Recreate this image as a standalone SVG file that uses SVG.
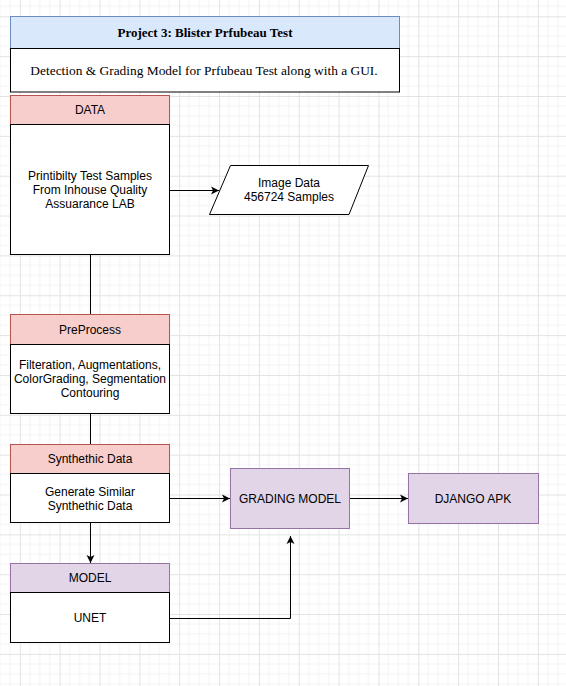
<svg xmlns="http://www.w3.org/2000/svg" width="566" height="686" viewBox="0 0 566 686">
<defs>
<pattern id="grid" patternUnits="userSpaceOnUse" x="19.8" y="16.3" width="39.85" height="39.85">
<path d="M9.96,0V39.85M19.93,0V39.85M29.89,0V39.85M0,9.96H39.85M0,19.93H39.85M0,29.89H39.85" stroke="#f3f3f3" stroke-width="1" fill="none"/>
<path d="M0.5,0V39.85M0,0.5H39.85" stroke="#e3e3e3" stroke-width="1" fill="none"/>
</pattern>
<marker id="arr" viewBox="0 0 10 10" refX="9" refY="5" markerWidth="10" markerHeight="10" markerUnits="userSpaceOnUse" orient="auto">
<path d="M1,1 L9,5 L1,9 L3,5 Z" fill="#000"/>
</marker>
<style>
.t{font-family:"Liberation Sans",Arial,sans-serif;font-size:12px;fill:#000;text-anchor:middle}
.s{font-family:"Liberation Serif","Times New Roman",serif;fill:#000;text-anchor:middle}
.red{fill:#f8cecc;stroke:#b85450;stroke-width:1}
.pur{fill:#e1d5e7;stroke:#9673a6;stroke-width:1}
.blu{fill:#dae8fc;stroke:#6c8ebf;stroke-width:1}
.body{fill:#fff;stroke:#000;stroke-width:1}
.c{fill:none;stroke:#000;stroke-width:1}
</style>
</defs>
<rect width="566" height="686" fill="#fff"/>
<rect width="566" height="686" fill="url(#grid)"/>

<g id="connectors">
<path class="c" d="M90.5,255V314"/>
<path class="c" d="M90.5,414V444"/>
<path class="c" d="M170,190.5H219" marker-end="url(#arr)"/>
<path class="c" d="M170,498.5H230" marker-end="url(#arr)"/>
<path class="c" d="M350,498.5H408" marker-end="url(#arr)"/>
<path class="c" d="M90.5,523V563" marker-end="url(#arr)"/>
<path class="c" d="M170,618.5H290.5V536" marker-end="url(#arr)"/>
</g>

<g id="title">
<rect class="blu" x="10.5" y="16.5" width="389" height="32"/>
<rect class="body" x="10.5" y="48.5" width="389" height="43.5"/>
<text class="s" x="205" y="36.5" font-size="13" font-weight="bold">Project 3: Blister Prfubeau Test</text>
<text class="s" x="204" y="75" font-size="13.4">Detection &amp; Grading Model for Prfubeau Test along with a GUI.</text>
</g>

<g id="data">
<rect class="red" x="10.5" y="95.5" width="159" height="29"/>
<rect class="body" x="10.5" y="124.5" width="159" height="130"/>
<text class="t" x="90" y="114">DATA</text>
<text class="t" x="90" y="180">Printibilty Test Samples</text>
<text class="t" x="90" y="194">From Inhouse Quality</text>
<text class="t" x="90" y="208">Assuarance LAB</text>
</g>

<g id="image-data">
<polygon class="body" points="230.5,165.5 368.5,165.5 349,214.5 209.5,214.5"/>
<text class="t" x="289" y="187">Image Data</text>
<text class="t" x="289" y="201">456724 Samples</text>
</g>

<g id="preprocess">
<rect class="red" x="10.5" y="314.5" width="159" height="30"/>
<rect class="body" x="10.5" y="344.5" width="159" height="69"/>
<text class="t" x="90" y="334">PreProcess</text>
<text class="t" x="90" y="369">Filteration, Augmentations,</text>
<text class="t" x="90" y="383">ColorGrading, Segmentation</text>
<text class="t" x="90" y="397">Contouring</text>
</g>

<g id="synthetic">
<rect class="red" x="10.5" y="444.5" width="159" height="29"/>
<rect class="body" x="10.5" y="473.5" width="159" height="49"/>
<text class="t" x="90" y="463">Synthethic Data</text>
<text class="t" x="90" y="496">Generate Similar</text>
<text class="t" x="90" y="510">Synthethic Data</text>
</g>

<g id="model">
<rect class="pur" x="10.5" y="563.5" width="159" height="29"/>
<rect class="body" x="10.5" y="592.5" width="159" height="50"/>
<text class="t" x="90" y="582">MODEL</text>
<text class="t" x="90" y="622">UNET</text>
</g>

<g id="grading">
<rect class="pur" x="230.5" y="468.5" width="119" height="60"/>
<text class="t" x="290" y="503">GRADING MODEL</text>
</g>

<g id="django">
<rect class="pur" x="408.5" y="473.5" width="130" height="50"/>
<text class="t" x="473" y="503">DJANGO APK</text>
</g>
</svg>
